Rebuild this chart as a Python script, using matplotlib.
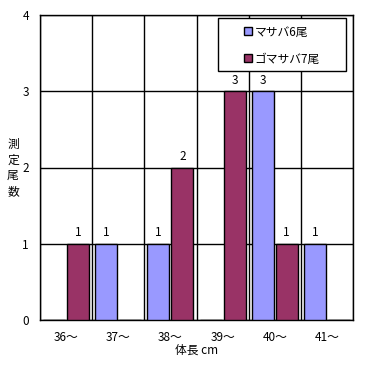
import matplotlib
matplotlib.use("Agg")
import matplotlib.pyplot as plt
import numpy as np
from matplotlib.lines import Line2D
from matplotlib.patches import Rectangle

categories = ["36〜", "37〜", "38〜", "39〜", "40〜", "41〜"]
masaba = [0, 1, 1, 0, 3, 1]
gomasaba = [1, 0, 2, 3, 1, 0]
series_names = ["マサバ6尾", "ゴマサバ7尾"]
series_colors = ["#9999FF", "#993366"]
y_ticks = [0, 1, 2, 3, 4]

plt.rcParams["font.family"] = ["Noto Sans CJK JP", "DejaVu Sans"]

W, H = 371, 365
fig = plt.figure(figsize=(W / 100, H / 100), dpi=100)
ax = fig.add_axes([40 / W, 45 / H, 313 / W, 305 / H])

x = np.arange(len(categories))
off, w = 0.23, 0.42
for vals, dx, col in [(masaba, -off, series_colors[0]), (gomasaba, off, series_colors[1])]:
    bars = ax.bar(x + dx, vals, width=w, color=col, edgecolor="black", linewidth=1, zorder=3)
    for b, v in zip(bars, vals):
        if v > 0:
            ax.text(b.get_x() + b.get_width() / 2, v + 0.06, str(v),
                    ha="center", va="bottom", fontsize=8.5)

ax.set_xlim(-0.5, len(categories) - 0.5)
ax.set_ylim(0, 4)
ax.set_yticks(y_ticks)
ax.set_xticks(x)
ax.set_xticklabels(categories, fontsize=8.5)
ax.set_xticks(np.arange(-0.5, len(categories)), minor=True)
ax.tick_params(axis="both", which="both", length=0, labelsize=8.5)
ax.tick_params(axis="x", pad=8)
ax.tick_params(axis="y", pad=8)
ax.grid(True, axis="y", which="major", color="black", linewidth=1, zorder=0)
ax.grid(True, axis="x", which="minor", color="black", linewidth=1, zorder=0)
ax.grid(False, axis="x", which="major")
ax.set_axisbelow(True)
for s in ax.spines.values():
    s.set_linewidth(1)

ax.set_xlabel("体長 cm", fontsize=8.5, labelpad=0)
fig.text(13 / W, 1 - 168 / H, "測\n定\n尾\n数", ha="center", va="center",
         fontsize=8.5, linespacing=1.25)

# legend box (Excel-style, wider than the entries)
fig.patches.append(Rectangle((218 / W, 1 - 71 / H), 128 / W, 53 / H,
                             transform=fig.transFigure, facecolor="white",
                             edgecolor="black", linewidth=1, zorder=5))
handles = [Line2D([], [], marker="s", linestyle="none", markersize=6,
                  markerfacecolor=c, markeredgecolor="black", markeredgewidth=1)
           for c in series_colors]
leg = fig.legend(handles, series_names, loc="center left",
                 bbox_to_anchor=(243 / W, 1 - 45.5 / H),
                 fontsize=8.5, frameon=False, labelspacing=1.2,
                 handlelength=0.8, handletextpad=0.2, borderpad=0, borderaxespad=0)
leg.set_zorder(6)

fig.savefig("out.png", dpi=100)
